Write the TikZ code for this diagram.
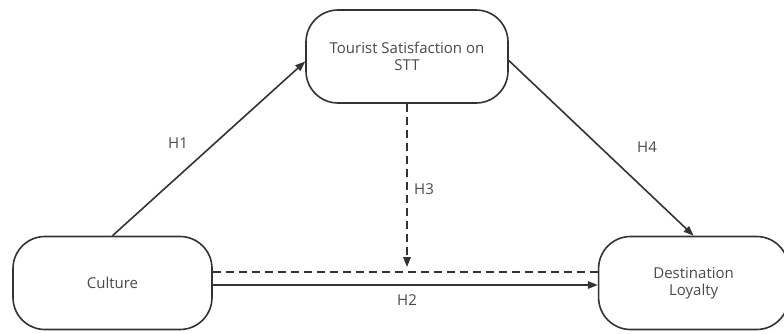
\documentclass[tikz,border=0pt]{standalone}
\usepackage{fontspec}
\setmainfont{Open Sans}
\usepackage{tikz}
\usetikzlibrary{arrows.meta,positioning}

\definecolor{linegray}{HTML}{333333}
\definecolor{textgray}{HTML}{4A4A4A}

\begin{document}
\begin{tikzpicture}[
  x=1pt, y=-1pt,
  font=\fontsize{15}{17}\selectfont,
  construct/.style={draw=linegray, line width=1.6pt, rounded corners=32pt,
                    minimum height=93pt, align=center, text=textgray, fill=white},
  hyp/.style={-{Triangle[length=10pt, width=7.5pt]}, line width=1.6pt, draw=linegray},
  hypdash/.style={hyp, dashed, dash pattern=on 8pt off 5pt},
  lbl/.style={text=textgray, inner sep=1pt}
]
  \useasboundingbox (0,0) rectangle (784,333);

  \node[construct, minimum width=199pt] (culture) at (112.5,283) {Culture};
  \node[construct, minimum width=190pt, right=385pt of culture] (dest) {Destination\\Loyalty};
  \node[construct, minimum width=202pt] (sat) at (407,56.5) {Tourist Satisfaction on\\STT};

  \coordinate (mid) at (sat.south |- 0,272);

  \draw[hyp] (culture.north) -- ([yshift=-5pt]sat.west);
  \draw[hyp] ([yshift=-4pt]sat.east) -- (dest.north);
  \draw[hypdash] (sat.south) -- ([yshift=5pt]mid);
  \draw[line width=1.6pt, draw=linegray, dashed, dash pattern=on 8pt off 5pt]
    ([yshift=11pt]culture.east) -- ([yshift=11pt]dest.west);
  \draw[hyp] ([yshift=-2pt]culture.east) -- ([yshift=-2pt]dest.west);

  \node[lbl] (h1) at (178,143) {H1};
  \node[lbl] (h2) at (407,300) {H2};
  \node[lbl] (h3) at (424,189) {H3};
  \node[lbl] (h4) at (647,147) {H4};
\end{tikzpicture}
\end{document}
